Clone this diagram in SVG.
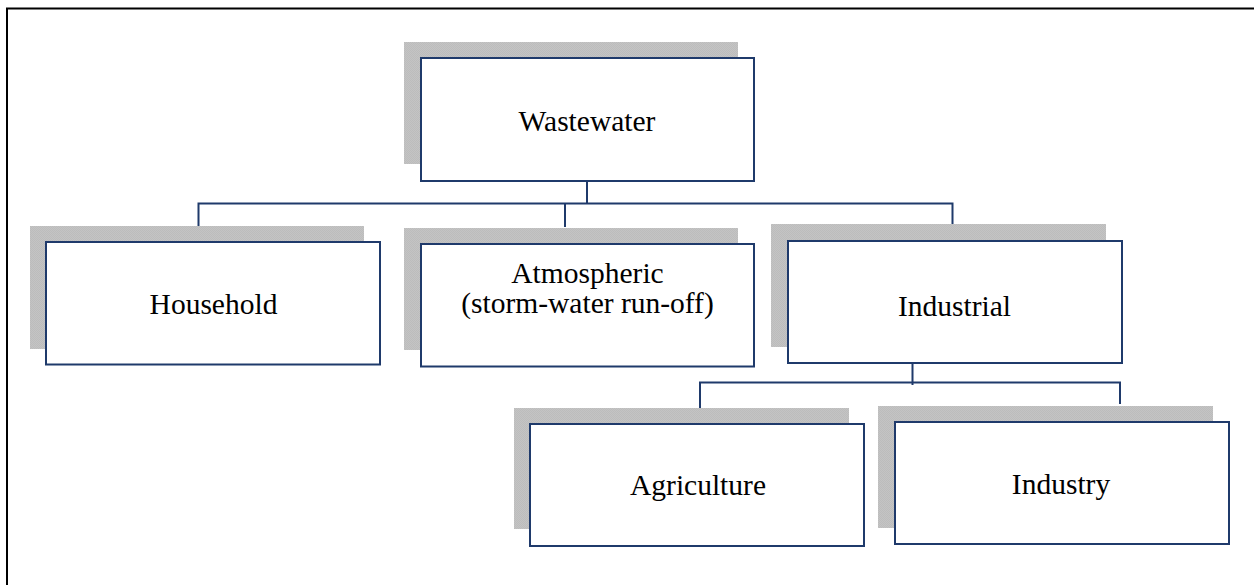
<svg xmlns="http://www.w3.org/2000/svg" width="1254" height="585" viewBox="0 0 1254 585">
<defs>
<pattern id="chk" width="2" height="2" patternUnits="userSpaceOnUse">
<rect width="2" height="2" fill="#c4c4c4"/>
<rect width="1" height="1" fill="#bcbcbc"/>
<rect x="1" y="1" width="1" height="1" fill="#bcbcbc"/>
</pattern>
</defs>
<style>
.shadow{fill:url(#chk);stroke:none}
.box{fill:#ffffff;stroke:#1f3a6b;stroke-width:2}
.lbl{font-family:"Liberation Serif","Times New Roman",serif;font-size:29.5px;fill:#000000;text-anchor:middle}
.conn{fill:none;stroke:#1f3a6b;stroke-width:2}
</style>
<rect x="0" y="0" width="1254" height="585" fill="#ffffff"/>
<rect x="7" y="8.5" width="1260" height="600" fill="none" stroke="#000000" stroke-width="2"/>
<g id="connectors">
<path class="conn" d="M587 181 V203.5 M198.5 227 V203.5 H952.5 V225 M565 202.5 V227"/>
<path class="conn" d="M912.5 363 V385 M700 408 V382.5 H1120 V404"/>
</g>
<g id="wastewater">
<rect class="shadow" x="404" y="42" width="334" height="122"/>
<rect class="box" x="421" y="58" width="333" height="123"/>
<text class="lbl" x="587" y="131">Wastewater</text>
</g>
<g id="household">
<rect class="shadow" x="30" y="226" width="334" height="123"/>
<rect class="box" x="46" y="242" width="334" height="122.5"/>
<text class="lbl" x="213.5" y="314">Household</text>
</g>
<g id="atmospheric">
<rect class="shadow" x="404" y="228" width="334" height="122"/>
<rect class="box" x="421" y="244" width="333" height="122.5"/>
<text class="lbl" x="587.5" y="282.5">Atmospheric</text>
<text class="lbl" x="587.5" y="312.5">(storm-water run-off)</text>
</g>
<g id="industrial">
<rect class="shadow" x="771" y="224" width="335" height="123"/>
<rect class="box" x="788" y="241" width="334" height="122"/>
<text class="lbl" x="954.5" y="315.5">Industrial</text>
</g>
<g id="agriculture">
<rect class="shadow" x="514" y="408" width="335" height="121"/>
<rect class="box" x="530" y="424" width="334" height="122"/>
<text class="lbl" x="698" y="495">Agriculture</text>
</g>
<g id="industry">
<rect class="shadow" x="878" y="406" width="335" height="122"/>
<rect class="box" x="895" y="422" width="334" height="122"/>
<text class="lbl" x="1061" y="494">Industry</text>
</g>
</svg>
